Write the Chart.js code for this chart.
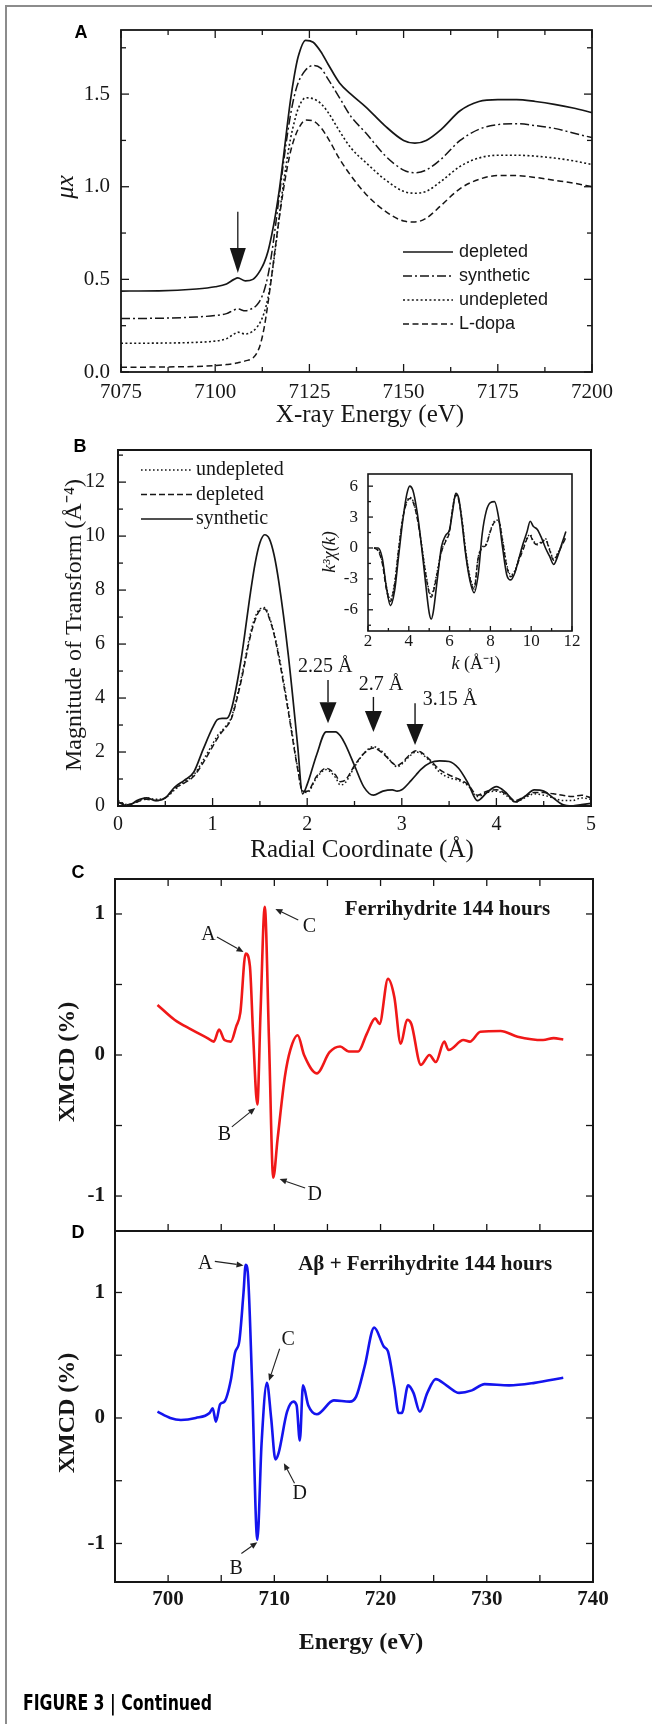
<!DOCTYPE html>
<html><head><meta charset="utf-8">
<script src="https://cdn.jsdelivr.net/npm/chart.js@4.4.1/dist/chart.umd.min.js"></script>
<style>
html,body{margin:0;padding:0;background:#fff;width:652px;height:1724px;overflow:hidden}
.cv{position:absolute;left:0;top:0}
#frame{position:absolute;left:5px;top:5px;width:700px;height:1800px;border-top:2px solid #8c8c8c;border-left:2px solid #8c8c8c}
#cap{position:absolute;left:23px;top:1691px;font:bold 21px "Liberation Sans Narrow","DejaVu Sans Condensed","Liberation Sans",sans-serif;white-space:nowrap;transform-origin:0 0;color:#000}
</style></head><body>
<div id="frame"></div>
<canvas id="cA" class="cv" width="652" height="1724"></canvas>
<canvas id="cB" class="cv" width="652" height="1724"></canvas>
<canvas id="cI" class="cv" width="652" height="1724"></canvas>
<canvas id="cC" class="cv" width="652" height="1724"></canvas>
<canvas id="cD" class="cv" width="652" height="1724"></canvas>
<div id="cap">FIGURE 3 | Continued</div>
<script>
// ================= DATA =================
// Panel A: XANES
const energyA = [7075,7085,7095,7100,7103,7105,7106,7108,7110,7111,7112,7113,7114,7115,7116,7117,7118,7119,7120,7121,7122,7124,7126,7128,7130,7133,7136,7140,7145,7150,7153,7156,7160,7165,7170,7175,7180,7185,7190,7195,7200];
const depletedA = [0.437,0.438,0.448,0.46,0.475,0.50,0.508,0.492,0.50,0.52,0.55,0.59,0.65,0.74,0.85,0.98,1.14,1.31,1.47,1.60,1.70,1.79,1.78,1.73,1.66,1.56,1.50,1.43,1.33,1.25,1.235,1.25,1.31,1.41,1.46,1.47,1.47,1.46,1.445,1.425,1.40];
const syntheticA = [0.289,0.29,0.297,0.305,0.315,0.335,0.34,0.33,0.345,0.36,0.39,0.44,0.52,0.64,0.79,0.95,1.11,1.26,1.39,1.49,1.56,1.63,1.655,1.64,1.58,1.48,1.38,1.29,1.17,1.09,1.075,1.09,1.15,1.25,1.31,1.335,1.34,1.33,1.315,1.29,1.265];
const undepletedA = [0.155,0.156,0.16,0.167,0.18,0.205,0.215,0.205,0.22,0.24,0.27,0.32,0.40,0.52,0.67,0.84,1.00,1.14,1.26,1.35,1.42,1.48,1.475,1.45,1.40,1.30,1.21,1.13,1.04,0.975,0.965,0.975,1.03,1.11,1.155,1.17,1.17,1.165,1.155,1.14,1.12];
const ldopaA = [0.025,0.027,0.03,0.035,0.04,0.045,0.05,0.06,0.075,0.10,0.15,0.24,0.37,0.52,0.68,0.83,0.97,1.09,1.19,1.26,1.31,1.36,1.355,1.32,1.26,1.15,1.06,0.96,0.87,0.815,0.81,0.83,0.90,0.99,1.04,1.06,1.06,1.05,1.035,1.02,1.00];
const xTicksA = [7075,7100,7125,7150,7175,7200];
const yTicksA = [0.0,0.5,1.0,1.5];
const legendA = ['depleted','synthetic','undepleted','L-dopa'];

// Panel B: Fourier transform
const radialB = [0,0.1,0.2,0.3,0.4,0.5,0.6,0.7,0.8,0.9,1.0,1.05,1.1,1.15,1.2,1.3,1.4,1.45,1.5,1.55,1.6,1.65,1.7,1.8,1.9,1.95,2.0,2.1,2.2,2.3,2.35,2.4,2.5,2.6,2.7,2.8,2.9,2.95,3.0,3.1,3.15,3.2,3.3,3.4,3.5,3.6,3.7,3.8,3.9,4.0,4.1,4.2,4.3,4.4,4.5,4.6,4.7,4.8,4.9,5.0];
const syntheticB = [0.15,0.0,0.2,0.3,0.2,0.3,0.7,0.95,1.25,2.1,2.9,3.2,3.25,3.25,3.6,5.4,7.9,9.0,9.75,10.05,9.9,9.3,8.3,5.6,2.2,0.45,0.8,1.9,2.75,2.75,2.6,2.3,1.5,0.7,0.4,0.55,0.6,0.55,0.6,0.95,1.15,1.35,1.6,1.67,1.65,1.4,0.85,0.2,0.5,0.72,0.5,0.15,0.35,0.6,0.55,0.3,0.05,0.0,0.05,0.1];
const undepletedB = [0.2,0.05,0.15,0.3,0.25,0.3,0.6,0.9,1.15,1.7,2.3,2.6,2.8,3.0,3.3,4.7,6.4,7.0,7.3,7.35,7.0,6.4,5.6,3.6,1.4,0.55,0.5,1.05,1.35,1.05,0.78,0.85,1.45,1.95,2.2,2.0,1.6,1.45,1.55,1.9,2.0,1.95,1.65,1.25,1.05,0.95,0.75,0.35,0.5,0.55,0.4,0.15,0.3,0.45,0.4,0.3,0.2,0.2,0.3,0.25];
const depletedB = [0.15,0.05,0.15,0.25,0.2,0.3,0.65,0.85,1.1,1.6,2.2,2.5,2.75,2.95,3.25,4.6,6.3,6.9,7.25,7.3,6.95,6.35,5.5,3.5,1.35,0.55,0.55,1.1,1.4,1.15,0.9,0.95,1.5,1.95,2.15,1.95,1.6,1.5,1.6,1.95,2.05,2.0,1.7,1.35,1.15,1.0,0.8,0.4,0.55,0.6,0.45,0.2,0.35,0.5,0.5,0.45,0.4,0.35,0.4,0.3];
const xTicksB = [0,1,2,3,4,5];
const yTicksB = [0,2,4,6,8,10,12];
const legendB = ['undepleted','depleted','synthetic'];
const peakLabelsB = ['2.25 Å','2.7 Å','3.15 Å'];

// Inset: k^3 chi(k)
const kInset = [2.3,2.5,2.7,2.9,3.1,3.3,3.5,3.7,3.9,4.05,4.2,4.4,4.6,4.8,5.0,5.1,5.2,5.4,5.6,5.8,6.0,6.15,6.3,6.45,6.6,6.8,7.0,7.2,7.4,7.6,7.8,8.0,8.2,8.4,8.6,8.8,9.0,9.2,9.4,9.6,9.8,9.95,10.1,10.3,10.5,10.7,10.9,11.1,11.3,11.5,11.7];
const syntheticInset = [0,0,-1.0,-3.8,-5.6,-4.2,-0.8,2.6,5.2,6.0,5.6,3.6,0.6,-3.0,-6.3,-6.9,-6.2,-3.0,0.1,1.2,1.8,3.6,5.3,4.8,2.6,-0.8,-3.2,-4.35,-2.6,1.4,3.6,4.4,4.5,3.0,0.0,-2.6,-3.1,-2.4,-1.0,0.4,1.6,2.6,2.1,1.8,1.0,0.0,-0.8,-1.6,-0.8,0.4,1.6];
const depletedInset = [0,-0.3,-1.5,-4.0,-5.2,-3.6,-0.2,2.8,4.4,4.8,4.5,3.0,0.6,-2.2,-4.4,-4.8,-4.3,-2.4,-0.4,0.6,1.6,3.8,5.1,4.6,2.8,-0.6,-3.0,-4.0,-1.0,0.0,0.3,1.6,2.5,2.6,0.6,-1.8,-2.8,-2.3,-1.2,-0.2,0.9,1.2,0.6,0.3,0.5,0.8,-0.2,-1.2,-0.6,0.2,1.0];
const undepletedInset = [0,-0.2,-1.3,-3.7,-5.0,-3.4,-0.1,2.9,4.5,4.9,4.6,3.1,0.7,-2.0,-4.2,-4.6,-4.1,-2.2,-0.3,0.7,1.7,3.9,5.2,4.7,2.9,-0.4,-2.8,-3.8,-0.9,0.1,0.4,1.7,2.6,2.7,0.8,-1.6,-2.6,-2.2,-1.0,0.0,1.0,1.3,0.7,0.4,0.6,0.9,-0.1,-1.1,-0.5,0.3,1.1];
const xTicksInset = [2,4,6,8,10,12];
const yTicksInset = [-6,-3,0,3,6];

// Panel C: XMCD ferrihydrite
const energyC = [699.0,700.6,702.2,703.7,704.3,704.8,705.3,705.9,706.4,706.8,707.3,707.7,708.0,708.4,708.7,709.1,709.5,709.9,710.3,711.0,711.5,712.2,712.8,714.0,715.2,716.2,717.0,717.9,718.7,719.5,719.9,720.7,721.3,721.9,722.5,722.9,723.8,724.6,725.2,726.0,726.4,727.8,728.4,729.4,731.3,732.9,735.3,736.3,737.2];
const xmcdC = [0.355,0.25,0.18,0.12,0.095,0.18,0.106,0.095,0.2,0.3,0.72,0.63,0.15,-0.35,0.3,1.05,0.1,-0.87,-0.6,-0.15,0.035,0.14,0.0,-0.13,0.02,0.06,0.025,0.025,0.15,0.26,0.22,0.54,0.41,0.08,0.25,0.22,-0.07,0.0,-0.05,0.095,0.035,0.106,0.095,0.165,0.17,0.13,0.106,0.12,0.11];
// Panel D: XMCD Abeta + ferrihydrite
const energyD = [699.0,700.2,701.2,702.6,703.9,704.2,704.5,704.9,705.3,705.9,706.3,706.7,707.1,707.3,707.5,707.9,708.4,708.8,709.3,709.7,710.1,710.4,711.2,711.8,712.1,712.4,712.7,713.2,714.0,715.6,717.1,717.7,718.5,719.4,720.3,720.7,721.3,721.7,722.0,722.6,723.1,723.7,724.4,725.2,726.2,727.4,728.6,729.8,732.1,734.5,737.2];
const xmcdD = [0.05,0.0,-0.016,0.0,0.04,0.077,-0.03,0.11,0.13,0.30,0.52,0.61,1.0,1.22,1.16,0.3,-0.97,-0.2,0.28,0.0,-0.33,-0.28,0.05,0.13,0.10,-0.18,0.26,0.10,0.03,0.14,0.13,0.17,0.41,0.72,0.57,0.53,0.25,0.04,0.04,0.26,0.20,0.05,0.20,0.31,0.26,0.20,0.22,0.27,0.26,0.28,0.32];
const xTicksCD = [700,710,720,730,740];
const yTicksCD = [-1,0,1];

// ================= DRAWING =================
const W = 652, H = 1724;
const SERIF = '"Liberation Serif","Times New Roman",serif';
const SANS = '"Liberation Sans",Arial,sans-serif';
const INK = '#161616';

function txt(ctx, s, x, y, o = {}) {
  ctx.save();
  ctx.font = o.font || ('20px ' + SERIF);
  ctx.fillStyle = o.color || INK;
  ctx.textAlign = o.align || 'center';
  ctx.textBaseline = o.base || 'middle';
  ctx.translate(x, y);
  if (o.rot) ctx.rotate(o.rot);
  ctx.fillText(s, 0, 0);
  ctx.restore();
}
function arrow(ctx, x1, y1, x2, y2, hl, hw, lw, color) {
  const a = Math.atan2(y2 - y1, x2 - x1);
  const bx = x2 - hl * Math.cos(a), by = y2 - hl * Math.sin(a);
  ctx.save();
  ctx.strokeStyle = color || INK; ctx.fillStyle = color || INK; ctx.lineWidth = lw;
  ctx.beginPath(); ctx.moveTo(x1, y1); ctx.lineTo(bx, by); ctx.stroke();
  ctx.beginPath(); ctx.moveTo(x2, y2);
  ctx.lineTo(bx + hw * Math.sin(a), by - hw * Math.cos(a));
  ctx.lineTo(bx - hw * Math.sin(a), by + hw * Math.cos(a));
  ctx.closePath(); ctx.fill(); ctx.restore();
}
function seg(ctx, x1, y1, x2, y2) { ctx.beginPath(); ctx.moveTo(x1, y1); ctx.lineTo(x2, y2); ctx.stroke(); }
function range(a, b, s) { const r = []; for (let v = a; v <= b + 1e-9; v += s) r.push(+v.toFixed(4)); return r; }

function axesPlugin(sp) {
  return {
    id: 'axesDraw',
    afterDatasetsDraw(chart) {
      const ctx = chart.ctx, ca = chart.chartArea;
      const X = v => chart.scales.x.getPixelForValue(v), Y = v => chart.scales.y.getPixelForValue(v);
      const l = ca.left, r = ca.right, t = ca.top, b = ca.bottom;
      ctx.save();
      ctx.strokeStyle = INK; ctx.lineWidth = sp.frameW;
      ctx.strokeRect(l, t, r - l, b - t);
      ctx.lineWidth = sp.tickW || 1.3;
      const sides = sp.sides;
      const doX = (vals, len) => vals.forEach(v => { const x = X(v);
        if (sides.includes('b')) seg(ctx, x, b, x, b - len);
        if (sides.includes('t')) seg(ctx, x, t, x, t + len); });
      const doY = (vals, len) => vals.forEach(v => { const y = Y(v);
        if (sides.includes('l')) seg(ctx, l, y, l + len, y);
        if (sides.includes('r')) seg(ctx, r, y, r - len, y); });
      doX(sp.xMajor, sp.majLen); doX(sp.xMinor, sp.minLen);
      doY(sp.yMajor, sp.majLen); doY(sp.yMinor, sp.minLen);
      ctx.restore();
      if (sp.xLabels) sp.xMajor.forEach(v => txt(ctx, sp.xFmt(v), X(v), b + sp.xOff, { font: sp.tickFont }));
      if (sp.yLabels) sp.yMajor.forEach(v => txt(ctx, sp.yFmt(v), l - sp.yOff, Y(v), { font: sp.tickFont, align: 'right' }));
      if (sp.extra) sp.extra(chart, ctx, X, Y);
    }
  };
}

function series(xs, ys, color, width, dash) {
  return { data: xs.map((x, i) => ({ x, y: ys[i] })), borderColor: color, borderWidth: width,
    borderDash: dash || [], pointRadius: 0, fill: false, cubicInterpolationMode: 'monotone' };
}

function makeChart(id, box, xr, yr, datasets, sp) {
  return new Chart(document.getElementById(id), {
    type: 'line',
    data: { datasets },
    options: {
      responsive: false, animation: false, devicePixelRatio: 1, events: [],
      layout: { padding: { left: box[0], top: box[1], right: W - box[2], bottom: H - box[3] } },
      plugins: { legend: { display: false }, tooltip: { enabled: false } },
      scales: {
        x: { type: 'linear', min: xr[0], max: xr[1], display: false },
        y: { type: 'linear', min: yr[0], max: yr[1], display: false }
      }
    },
    plugins: [axesPlugin(sp)]
  });
}

const dashA = { depleted: [], synthetic: [9, 3, 2, 3], undepleted: [2, 2.4], ldopa: [6, 3.5] };

// ---------- Panel A ----------
makeChart('cA', [121, 30, 592, 372], [7075, 7200], [0, 1.846], [
  series(energyA, depletedA, INK, 1.7, dashA.depleted),
  series(energyA, syntheticA, INK, 1.5, dashA.synthetic),
  series(energyA, undepletedA, INK, 1.6, dashA.undepleted),
  series(energyA, ldopaA, INK, 1.5, dashA.ldopa)
], {
  frameW: 1.8, sides: 'btlr', majLen: 8, minLen: 5,
  xMajor: xTicksA, xMinor: range(7087.5, 7187.5, 25), yMajor: yTicksA, yMinor: [0.25, 0.75, 1.25, 1.75],
  xLabels: true, yLabels: true, xOff: 20, yOff: 11, tickFont: '21px ' + SERIF,
  xFmt: v => String(v), yFmt: v => v.toFixed(1),
  extra(chart, ctx, X, Y) {
    txt(ctx, 'A', 81, 33, { font: 'bold 18px ' + SANS, color: '#000' });
    txt(ctx, 'X-ray Energy (eV)', 370, 415, { font: '25px ' + SERIF });
    txt(ctx, 'μx', 66, 187, { font: 'italic 25px ' + SERIF, rot: -Math.PI / 2 });
    arrow(ctx, X(7106), Y(0.865), X(7106), Y(0.535), 25, 8, 1.3);
    const dashes = [dashA.depleted, dashA.synthetic, dashA.undepleted, dashA.ldopa];
    legendA.forEach((s, i) => {
      const y = 252 + i * 24;
      ctx.save(); ctx.strokeStyle = INK; ctx.lineWidth = 1.7; ctx.setLineDash(dashes[i]);
      seg(ctx, 403, y, 453, y); ctx.restore();
      txt(ctx, s, 459, y, { font: '18px ' + SANS, align: 'left' });
    });
  }
});

// ---------- Panel B ----------
const dashB = { undepleted: [1.6, 2.4], depleted: [6, 3], synthetic: [] };
makeChart('cB', [118, 450, 591, 806], [0, 5], [0, 13.19], [
  series(radialB, undepletedB, INK, 1.5, dashB.undepleted),
  series(radialB, depletedB, INK, 1.5, dashB.depleted),
  series(radialB, syntheticB, INK, 1.7, dashB.synthetic)
], {
  frameW: 2, sides: 'bl', majLen: 8, minLen: 5,
  xMajor: xTicksB, xMinor: range(0.5, 4.5, 1), yMajor: yTicksB, yMinor: range(1, 13, 2),
  xLabels: true, yLabels: true, xOff: 19, yOff: 13, tickFont: '20px ' + SERIF,
  xFmt: v => String(v), yFmt: v => String(v),
  extra(chart, ctx, X, Y) {
    txt(ctx, 'B', 80, 447, { font: 'bold 18px ' + SANS, color: '#000' });
    txt(ctx, 'Radial Coordinate (Å)', 362, 850, { font: '25px ' + SERIF });
    txt(ctx, 'Magnitude of Transform (Å⁻⁴)', 75, 625, { font: '24px ' + SERIF, rot: -Math.PI / 2 });
    const dashes = [dashB.undepleted, dashB.depleted, dashB.synthetic];
    legendB.forEach((s, i) => {
      const y = 470 + i * 24.5;
      ctx.save(); ctx.strokeStyle = INK; ctx.lineWidth = 1.6; ctx.setLineDash(dashes[i]);
      seg(ctx, 141, y, 193, y); ctx.restore();
      txt(ctx, s, 196, y, { font: '20px ' + SERIF, align: 'left' });
    });
    const arr = [[2.22, 4.67, 3.07], [2.70, 4.04, 2.74], [3.14, 3.81, 2.26]];
    arr.forEach(a => arrow(ctx, X(a[0]), Y(a[1]), X(a[0]), Y(a[2]), 21, 8.5, 1.4));
    txt(ctx, peakLabelsB[0], X(2.19), Y(5.15), { font: '20px ' + SERIF });
    txt(ctx, peakLabelsB[1], X(2.78), Y(4.48), { font: '20px ' + SERIF });
    txt(ctx, peakLabelsB[2], X(3.51), Y(3.93), { font: '20px ' + SERIF });
  }
});

// ---------- Inset ----------
makeChart('cI', [368, 474, 572, 631], [2, 12], [-8.06, 7.18], [
  series(kInset, undepletedInset, INK, 1.4, [1.5, 2]),
  series(kInset, depletedInset, INK, 1.4, [5, 3]),
  series(kInset, syntheticInset, INK, 1.6, [])
], {
  frameW: 1.6, sides: 'bl', majLen: 5, minLen: 3,
  xMajor: xTicksInset, xMinor: range(3, 11, 2), yMajor: yTicksInset, yMinor: [-7.5, -4.5, -1.5, 1.5, 4.5],
  xLabels: true, yLabels: true, xOff: 11, yOff: 10, tickFont: '17px ' + SERIF,
  xFmt: v => String(v), yFmt: v => String(v),
  extra(chart, ctx, X, Y) {
    ctx.save();
    ctx.font = 'italic 18px ' + SERIF;
    const w1 = ctx.measureText('k ').width;
    ctx.font = '18px ' + SERIF;
    const w2 = ctx.measureText('(Å⁻¹)').width;
    ctx.restore();
    const x0 = 476 - (w1 + w2) / 2;
    txt(ctx, 'k ', x0, 664, { font: 'italic 18px ' + SERIF, align: 'left' });
    txt(ctx, '(Å⁻¹)', x0 + w1, 664, { font: '18px ' + SERIF, align: 'left' });
    txt(ctx, 'k³χ(k)', 330, 552, { font: 'italic 18px ' + SERIF, rot: -Math.PI / 2 });
  }
});

// ---------- Panel C ----------
const RED = '#f01818', BLUE = '#1414ee';
function noteArrow(ctx, X, Y, a) { // a: [label, labelX, labelY, fromX, fromY, toX, toY] in data units
  txt(ctx, a[0], X(a[1]), Y(a[2]), { font: '20px ' + SERIF });
  arrow(ctx, X(a[3]), Y(a[4]), X(a[5]), Y(a[6]), 7, 3, 1.1, '#222');
}
makeChart('cC', [115, 879, 593, 1231], [695, 740], [-1.248, 1.248], [
  series(energyC, xmcdC, RED, 2.6, [])
], {
  frameW: 2, sides: 'btlr', majLen: 7, minLen: 7,
  xMajor: range(700, 735, 5), xMinor: [], yMajor: yTicksCD, yMinor: [-0.5, 0.5],
  xLabels: false, yLabels: true, yOff: 10, tickFont: 'bold 21px ' + SERIF,
  yFmt: v => String(v),
  extra(chart, ctx, X, Y) {
    txt(ctx, 'C', 78, 873, { font: 'bold 18px ' + SANS, color: '#000' });
    txt(ctx, 'XMCD (%)', 68, 1062, { font: 'bold 24px ' + SERIF, rot: -Math.PI / 2 });
    txt(ctx, 'Ferrihydrite 144 hours', X(726.3), Y(1.03), { font: 'bold 21px ' + SERIF });
    [['A', 703.8, 0.85, 704.6, 0.837, 707.1, 0.73],
     ['C', 713.3, 0.91, 712.25, 0.957, 710.1, 1.035],
     ['B', 705.3, -0.567, 706.0, -0.51, 708.2, -0.376],
     ['D', 713.8, -0.993, 712.9, -0.943, 710.5, -0.88]].forEach(a => noteArrow(ctx, X, Y, a));
  }
});

// ---------- Panel D ----------
makeChart('cD', [115, 1231, 593, 1582], [695, 740], [-1.307, 1.49], [
  series(energyD, xmcdD, BLUE, 2.6, [])
], {
  frameW: 2, sides: 'blr', majLen: 7, minLen: 7,
  xMajor: xTicksCD, xMinor: range(705, 735, 10), yMajor: yTicksCD, yMinor: [-0.5, 0.5],
  xLabels: true, yLabels: true, xOff: 18, yOff: 10, tickFont: 'bold 21px ' + SERIF,
  xFmt: v => String(v), yFmt: v => String(v),
  extra(chart, ctx, X, Y) {
    txt(ctx, 'D', 78, 1233, { font: 'bold 18px ' + SANS, color: '#000' });
    txt(ctx, 'XMCD (%)', 68, 1413, { font: 'bold 24px ' + SERIF, rot: -Math.PI / 2 });
    txt(ctx, 'Energy (eV)', 361, 1643, { font: 'bold 24px ' + SERIF });
    txt(ctx, 'Aβ + Ferrihydrite 144 hours', X(724.2), Y(1.224), { font: 'bold 21px ' + SERIF });
    [['A', 703.5, 1.232, 704.4, 1.248, 707.1, 1.216],
     ['C', 711.3, 0.624, 710.5, 0.552, 709.5, 0.296],
     ['D', 712.4, -0.6, 711.9, -0.52, 710.9, -0.36],
     ['B', 706.4, -1.2, 706.9, -1.08, 708.4, -0.99]].forEach(a => noteArrow(ctx, X, Y, a));
  }
});

// caption width fit
const cap = document.getElementById('cap');
const cw = cap.getBoundingClientRect().width;
if (cw > 0) cap.style.transform = 'scaleX(' + (189 / cw) + ')';
</script>
</body></html>
